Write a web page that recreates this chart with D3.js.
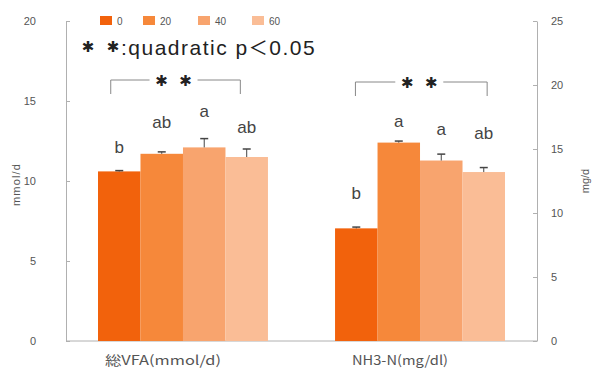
<!DOCTYPE html>
<html><head><meta charset="utf-8">
<script src="https://cdn.jsdelivr.net/npm/d3@7"></script>
<style>body{margin:0;background:#fff}svg{display:block}</style>
</head><body><svg id="c" width="600" height="371"></svg>
<script>
const categories = ["総VFA(mmol/d)", "NH3-N(mg/dl)"];
const seriesNames = ["0", "20", "40", "60"];
const vfaValues = [10.6, 11.7, 12.1, 11.5];
const vfaErrors = [0.05, 0.12, 0.55, 0.5];
const nh3Values = [8.8, 15.5, 14.1, 13.2];
const nh3Errors = [0.1, 0.12, 0.5, 0.35];
const vfaLetters = ["b", "ab", "a", "ab"];
const nh3Letters = ["b", "a", "a", "ab"];
const leftTicks = [0, 5, 10, 15, 20];
const rightTicks = [0, 5, 10, 15, 20, 25];
const colors = ["#f2620c", "#f6883a", "#f8a46e", "#fabd96"];

// layout only (pixel gaps / fractions of a bar width)
const letterGap = [[18, 24, 22, 16], [28, 14, 19, 29]];
const bracketSpan = [[0.3, 3.35], [0.48, 3.58]];
const bracketTop = [80, 82];

const svg = d3.select("#c");
const L = 66, R = 537, T = 21, B = 341;
const yL = d3.scaleLinear().domain([0, 20]).range([B, T]);
const yR = d3.scaleLinear().domain([0, 25]).range([B, T]);
const x0 = d3.scaleBand().domain(categories).range([L, R]).paddingInner(0.283).paddingOuter(0.135);
const x1 = d3.scaleBand().domain(seriesNames).range([0, x0.bandwidth()]).padding(0);
const axisColor = "#b0b0b0", textColor = "#555";
const font = "Arial, 'Liberation Sans', sans-serif";
const star = "✱";

// axes
const gl = svg.append("g").attr("transform", `translate(${L},0)`)
  .call(d3.axisLeft(yL).tickValues(leftTicks).tickSizeInner(-4).tickSizeOuter(0).tickPadding(30));
const gr = svg.append("g").attr("transform", `translate(${R},0)`)
  .call(d3.axisRight(yR).tickValues(rightTicks).tickSizeInner(-4).tickSizeOuter(0).tickPadding(14));
[gl, gr].forEach(g => {
  g.select(".domain").attr("stroke", axisColor);
  g.selectAll(".tick line").attr("stroke", axisColor);
  g.selectAll(".tick text").attr("fill", textColor).attr("font-size", 11).attr("font-family", font);
});
svg.append("line").attr("x1", L).attr("x2", R).attr("y1", B).attr("y2", B).attr("stroke", axisColor);

// bars
const groups = [
  {cat: categories[0], vals: vfaValues, errs: vfaErrors, letters: vfaLetters, y: yL},
  {cat: categories[1], vals: nh3Values, errs: nh3Errors, letters: nh3Letters, y: yR}
];
groups.forEach((gd, gi) => {
  const g = svg.append("g").attr("transform", `translate(${x0(gd.cat)},0)`);
  const data = seriesNames.map((s, i) => ({s, i, v: gd.vals[i], e: gd.errs[i], l: gd.letters[i]}));
  g.selectAll("rect").data(data).join("rect")
    .attr("x", d => x1(d.s)).attr("width", x1.bandwidth())
    .attr("y", d => gd.y(d.v)).attr("height", d => gd.y(0) - gd.y(d.v))
    .attr("fill", d => colors[d.i]);
  const cx = d => x1(d.s) + x1.bandwidth() / 2;
  g.selectAll("line.err").data(data).join("line").attr("class", "err")
    .attr("x1", cx).attr("x2", cx).attr("y1", d => gd.y(d.v)).attr("y2", d => gd.y(d.v + d.e))
    .attr("stroke", "#444").attr("stroke-width", 1);
  g.selectAll("line.cap").data(data).join("line").attr("class", "cap")
    .attr("x1", d => cx(d) - 4).attr("x2", d => cx(d) + 4)
    .attr("y1", d => gd.y(d.v + d.e)).attr("y2", d => gd.y(d.v + d.e))
    .attr("stroke", "#444").attr("stroke-width", 1.5);
  g.selectAll("text.lt").data(data).join("text").attr("class", "lt")
    .attr("x", cx).attr("y", d => gd.y(d.v + d.e) - letterGap[gi][d.i])
    .attr("text-anchor", "middle").attr("font-size", 17).attr("font-family", font)
    .attr("fill", "#444").text(d => d.l);
  // bracket
  const bw = x1.bandwidth();
  const bx1 = bw * bracketSpan[gi][0];
  const bx2 = bw * bracketSpan[gi][1];
  const by = bracketTop[gi];
  const mid = (bx1 + bx2) / 2 - 2;
  g.append("path").attr("d", `M${bx1},${by + 14}V${by}H${mid - 24}M${mid + 24},${by}H${bx2}V${by + 14}`)
    .attr("fill", "none").attr("stroke", "#888").attr("stroke-width", 1);
  [-12, 12].forEach(dx => {
    g.append("text").attr("x", mid + dx).attr("y", by + 6).attr("text-anchor", "middle")
      .attr("font-size", 15).attr("font-family", "'DejaVu Sans'").attr("fill", "#222").text(star);
  });
});

// legend
const leg = svg.append("g");
const legX = [100, 143, 198, 252];
seriesNames.forEach((s, i) => {
  leg.append("rect").attr("x", legX[i]).attr("y", 16).attr("width", 12).attr("height", 9).attr("fill", colors[i]);
  leg.append("text").attr("x", legX[i] + 17).attr("y", 25).attr("font-size", 10).attr("font-family", font)
    .attr("fill", textColor).text(s);
});

// annotation
[88, 113].forEach(x => {
  svg.append("text").attr("x", x).attr("y", 52).attr("text-anchor", "middle").attr("font-size", 15)
    .attr("font-family", "'DejaVu Sans'").attr("fill", "#222").text(star);
});
svg.append("text").attr("x", 121).attr("y", 55).attr("font-size", 21).attr("font-family", font)
  .attr("letter-spacing", 1.5).attr("fill", "#222")
  .call(t => {
    t.append("tspan").text(":quadratic p");
    t.append("tspan").attr("font-family", "'Noto Sans CJK JP'").attr("font-size", 19).text("＜");
    t.append("tspan").text("0.05");
  });

// axis titles
svg.append("text").attr("transform", "translate(20,185) rotate(-90)").attr("text-anchor", "middle")
  .attr("font-size", 11).attr("font-family", font).attr("fill", textColor)
  .attr("textLength", 42).text("mmol/d");
svg.append("text").attr("transform", "translate(589,181) rotate(-90)").attr("text-anchor", "middle")
  .attr("font-size", 11).attr("font-family", font).attr("fill", textColor).text("mg/d");

// category labels
const catX = [163, 400];
const catW = [116, 96];
categories.forEach((c, i) => {
  svg.append("text").attr("x", catX[i] - catW[i] / 2).attr("y", 365)
    .attr("font-size", 13).attr("font-family", "'Noto Sans CJK JP'").attr("fill", textColor)
    .attr("textLength", catW[i]).attr("lengthAdjust", "spacingAndGlyphs").text(c);
});
</script></body></html>
